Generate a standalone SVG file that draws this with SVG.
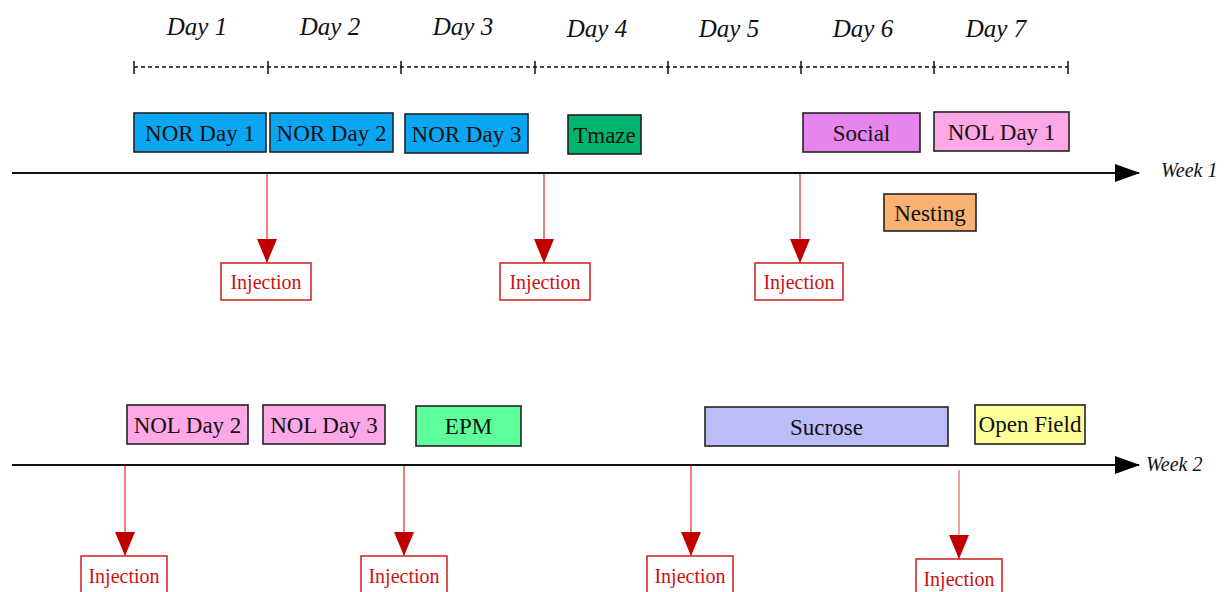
<svg xmlns="http://www.w3.org/2000/svg" width="1228" height="592" viewBox="0 0 1228 592">
<style>
.day{font-family:"Liberation Serif",serif;font-style:italic;font-size:25px;fill:#111;text-anchor:middle}
.wk{font-family:"Liberation Serif",serif;font-style:italic;font-size:20px;fill:#111}
.box{stroke:#222;stroke-width:1.6}
.bt{font-family:"Liberation Serif",serif;font-size:23px;fill:#111;text-anchor:middle}
.inj{fill:#fff;stroke:#d42a2a;stroke-width:1.6}
.it{font-family:"Liberation Serif",serif;font-size:20px;fill:#cc1111;text-anchor:middle}
.rl{stroke:#e03a3a;stroke-width:1.3;fill:none}
.ax{stroke:#111;stroke-width:2;fill:none}
.tick{stroke:#111;stroke-width:1.5}
</style>
<defs>
<marker id="ra" markerWidth="24" markerHeight="20" refX="23" refY="10" orient="auto" markerUnits="userSpaceOnUse" viewBox="0 0 24 20">
<path d="M0,0 L24,10 L0,20 Z" fill="#c00000"/>
</marker>
<marker id="ba" markerWidth="25" markerHeight="18" refX="24" refY="9" orient="auto" markerUnits="userSpaceOnUse" viewBox="0 0 25 18">
<path d="M0,0 L25,9 L0,18 Z" fill="#000"/>
</marker>
</defs>

<g id="ruler">
<line x1="134" y1="67" x2="1068" y2="67" stroke="#111" stroke-width="1.3" stroke-dasharray="4,3"/>
<g class="tick">
<line x1="134" y1="61" x2="134" y2="74"/><line x1="268" y1="61" x2="268" y2="74"/><line x1="401" y1="61" x2="401" y2="74"/><line x1="535" y1="61" x2="535" y2="74"/><line x1="668" y1="61" x2="668" y2="74"/><line x1="801" y1="61" x2="801" y2="74"/><line x1="934" y1="61" x2="934" y2="74"/><line x1="1068" y1="61" x2="1068" y2="74"/>
</g>
<text class="day" x="197" y="35">Day 1</text>
<text class="day" x="330" y="35">Day 2</text>
<text class="day" x="463" y="35">Day 3</text>
<text class="day" x="597" y="37">Day 4</text>
<text class="day" x="729" y="37">Day 5</text>
<text class="day" x="863" y="37">Day 6</text>
<text class="day" x="996" y="37">Day 7</text>
</g>

<g id="axes">
<line class="ax" x1="12" y1="173" x2="1139" y2="173" marker-end="url(#ba)"/>
<text class="wk" x="1161" y="177">Week 1</text>
<line class="ax" x1="12" y1="465" x2="1139" y2="465" marker-end="url(#ba)"/>
<text class="wk" x="1146" y="471">Week 2</text>
</g>

<g id="nor1"><rect class="box" x="134" y="113" width="132" height="39" fill="#0aa6f2"/><text class="bt" x="200" y="141">NOR Day 1</text></g>
<g id="nor2"><rect class="box" x="270" y="113" width="123" height="39" fill="#0aa6f2"/><text class="bt" x="331.5" y="141">NOR Day 2</text></g>
<g id="nor3"><rect class="box" x="405" y="114" width="123" height="39" fill="#0aa6f2"/><text class="bt" x="466.5" y="142">NOR Day 3</text></g>
<g id="tmaze"><rect class="box" x="568" y="115" width="73" height="39" fill="#00b46e"/><text class="bt" x="604.5" y="143">Tmaze</text></g>
<g id="social"><rect class="box" x="803" y="113" width="117" height="39" fill="#e884ee"/><text class="bt" x="861.5" y="141">Social</text></g>
<g id="nol1"><rect class="box" x="934" y="112" width="135" height="39" fill="#ffa8e8"/><text class="bt" x="1001.5" y="140">NOL Day 1</text></g>
<g id="nesting"><rect class="box" x="884" y="194" width="92" height="37" fill="#f9b272"/><text class="bt" x="930" y="221">Nesting</text></g>

<g id="nol2"><rect class="box" x="127" y="405" width="121" height="39" fill="#ffa8e8"/><text class="bt" x="187.5" y="433">NOL Day 2</text></g>
<g id="nol3"><rect class="box" x="263" y="405" width="122" height="39" fill="#ffa8e8"/><text class="bt" x="324" y="433">NOL Day 3</text></g>
<g id="epm"><rect class="box" x="416" y="406" width="105" height="40" fill="#5cff9a"/><text class="bt" x="468.5" y="434">EPM</text></g>
<g id="sucrose"><rect class="box" x="705" y="407" width="243" height="39" fill="#bcbcf8"/><text class="bt" x="826.5" y="435">Sucrose</text></g>
<g id="openfield"><rect class="box" x="975" y="405" width="110" height="39" fill="#ffff99"/><text class="bt" x="1030" y="432">Open Field</text></g>

<g id="inj1"><rect class="inj" x="221" y="263" width="90" height="37"/><text class="it" x="266" y="289">Injection</text></g>
<g id="inj2"><rect class="inj" x="500" y="263" width="90" height="37"/><text class="it" x="545" y="289">Injection</text></g>
<g id="inj3"><rect class="inj" x="755" y="263" width="88" height="37"/><text class="it" x="799" y="289">Injection</text></g>
<g id="inj4"><rect class="inj" x="81" y="556" width="86" height="40"/><text class="it" x="124" y="583">Injection</text></g>
<g id="inj5"><rect class="inj" x="361" y="556" width="86" height="40"/><text class="it" x="404" y="583">Injection</text></g>
<g id="inj6"><rect class="inj" x="647" y="556" width="86" height="40"/><text class="it" x="690" y="583">Injection</text></g>
<g id="inj7"><rect class="inj" x="916" y="559" width="86" height="40"/><text class="it" x="959" y="586">Injection</text></g>

<g id="connectors">
<line class="rl" x1="267" y1="174" x2="267" y2="262" marker-end="url(#ra)"/>
<line class="rl" x1="544" y1="174" x2="544" y2="262" marker-end="url(#ra)"/>
<line class="rl" x1="800" y1="174" x2="800" y2="262" marker-end="url(#ra)"/>
<line class="rl" x1="125" y1="466" x2="125" y2="555" marker-end="url(#ra)"/>
<line class="rl" x1="404" y1="466" x2="404" y2="555" marker-end="url(#ra)"/>
<line class="rl" x1="691" y1="466" x2="691" y2="555" marker-end="url(#ra)"/>
<line class="rl" x1="959" y1="470" x2="959" y2="558" marker-end="url(#ra)" stroke-opacity="0.7" stroke-width="1"/>
</g>
</svg>
